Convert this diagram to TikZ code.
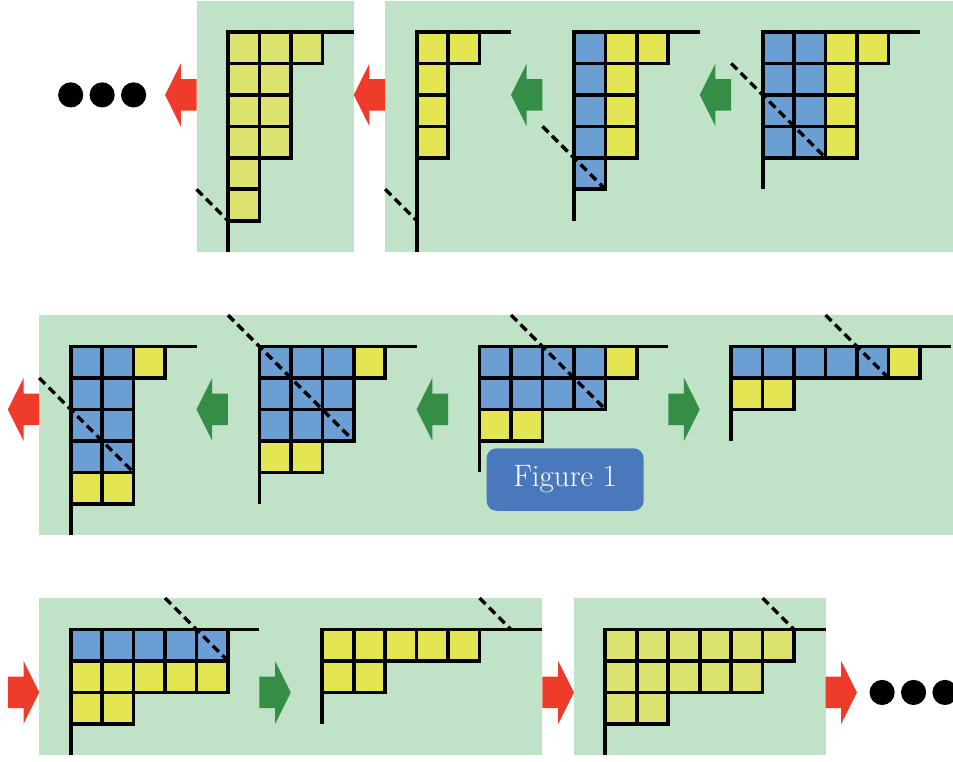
\documentclass[tikz,border=0pt]{standalone}
\definecolor{pgreen}{RGB}{192,226,199}
\definecolor{cblue}{RGB}{107,159,211}
\definecolor{cyel}{RGB}{227,229,82}
\definecolor{clight}{RGB}{220,227,110}
\definecolor{ared}{RGB}{238,59,42}
\definecolor{agreen}{RGB}{53,142,70}
\definecolor{figblue}{RGB}{74,120,188}
\tikzset{
  panel/.style={fill=pgreen, draw=none},
  cell/.style={draw=black, line width=3.6pt, line join=miter},
  axis/.style={draw=black, line width=3.8pt, line cap=butt},
  diag/.style={draw=black, line width=3.4pt, dash pattern=on 8.5pt off 5pt},
  redarrow/.style={fill=ared},
  grnarrow/.style={fill=agreen},
  bigdot/.style={fill=black},
  figbox/.style={fill=figblue, rounded corners=10pt, minimum width=157pt,
    minimum height=62.5pt, text=white, font=\fontsize{31}{37}\selectfont, inner sep=0pt}
}
% origin x, origin y, cells, top length, left length, dash from, dash to
\newcommand\ydiag[7]{%
  \begin{scope}[shift={(#1,#2)}]
    \foreach \c/\r/\k in {#3} {\filldraw[cell, fill=\k] (\c,\r) rectangle ++(1,1);}
    \draw[axis] (#4,0) -- (0,0) -- (0,#5);
    \draw[diag] #6 -- #7;
  \end{scope}}
% left-pointing block arrow: tip x, centre y, style
\newcommand\larrow[3]{%
  \fill[#3] (#1,#2) -- (#1+0.5,#2-1) -- (#1+0.5,#2-0.5) -- (#1+1,#2-0.5)
    -- (#1+1,#2+0.5) -- (#1+0.5,#2+0.5) -- (#1+0.5,#2+1) -- cycle;}
% right-pointing block arrow: tail x, centre y, style
\newcommand\rarrow[3]{%
  \fill[#3] (#1,#2-0.5) -- (#1+0.5,#2-0.5) -- (#1+0.5,#2-1) -- (#1+1,#2)
    -- (#1+0.5,#2+1) -- (#1+0.5,#2+0.5) -- (#1,#2+0.5) -- cycle;}
\begin{document}
\begin{tikzpicture}[x=31.45pt, y=-31.45pt]
\useasboundingbox (-70.7pt,32pt) rectangle (882.3pt,-729pt);
\clip (-70.7pt,32pt) rectangle (882.3pt,-729pt);
% panels
\fill[panel] (4,-1) rectangle (9,7);
\fill[panel] (10,-1) rectangle (28.2,7);
\fill[panel] (-1,9) rectangle (28.2,16);
\fill[panel] (-1,18) rectangle (15,23);
\fill[panel] (16,18) rectangle (24,23);
% top row
\ydiag{5}{0}{0/0/clight,1/0/clight,2/0/clight,0/1/clight,1/1/clight,0/2/clight,1/2/clight,0/3/clight,1/3/clight,0/4/clight,0/5/clight}{4}{7}{(-1,5)}{(0,6)}
\ydiag{11}{0}{0/0/cyel,1/0/cyel,0/1/cyel,0/2/cyel,0/3/cyel}{3}{7}{(-1,5)}{(0,6)}
\ydiag{16}{0}{0/0/cblue,1/0/cyel,2/0/cyel,0/1/cblue,1/1/cyel,0/2/cblue,1/2/cyel,0/3/cblue,1/3/cyel,0/4/cblue}{4}{6}{(-1,3)}{(1,5)}
\ydiag{22}{0}{0/0/cblue,1/0/cblue,2/0/cyel,3/0/cyel,0/1/cblue,1/1/cblue,2/1/cyel,0/2/cblue,1/2/cblue,2/2/cyel,0/3/cblue,1/3/cblue,2/3/cyel}{5}{5}{(-1,1)}{(2,4)}
% middle row
\ydiag{0}{10}{0/0/cblue,1/0/cblue,2/0/cyel,0/1/cblue,1/1/cblue,0/2/cblue,1/2/cblue,0/3/cblue,1/3/cblue,0/4/cyel,1/4/cyel}{4}{6}{(-1,1)}{(2,4)}
\ydiag{6}{10}{0/0/cblue,1/0/cblue,2/0/cblue,3/0/cyel,0/1/cblue,1/1/cblue,2/1/cblue,0/2/cblue,1/2/cblue,2/2/cblue,0/3/cyel,1/3/cyel}{5}{5}{(-1,-1)}{(3,3)}
\ydiag{13}{10}{0/0/cblue,1/0/cblue,2/0/cblue,3/0/cblue,4/0/cyel,0/1/cblue,1/1/cblue,2/1/cblue,3/1/cblue,0/2/cyel,1/2/cyel}{6}{4}{(1,-1)}{(4,2)}
\ydiag{21}{10}{0/0/cblue,1/0/cblue,2/0/cblue,3/0/cblue,4/0/cblue,5/0/cyel,0/1/cyel,1/1/cyel}{7}{3}{(3,-1)}{(5,1)}
% bottom row
\ydiag{0}{19}{0/0/cblue,1/0/cblue,2/0/cblue,3/0/cblue,4/0/cblue,0/1/cyel,1/1/cyel,2/1/cyel,3/1/cyel,4/1/cyel,0/2/cyel,1/2/cyel}{6}{4}{(3,-1)}{(5,1)}
\ydiag{8}{19}{0/0/cyel,1/0/cyel,2/0/cyel,3/0/cyel,4/0/cyel,0/1/cyel,1/1/cyel}{7}{3}{(5,-1)}{(6,0)}
\ydiag{17}{19}{0/0/clight,1/0/clight,2/0/clight,3/0/clight,4/0/clight,5/0/clight,0/1/clight,1/1/clight,2/1/clight,3/1/clight,4/1/clight,0/2/clight,1/2/clight}{7}{4}{(5,-1)}{(6,0)}
% arrows
\larrow{3}{2}{redarrow}
\larrow{9}{2}{redarrow}
\larrow{14}{2}{grnarrow}
\larrow{20}{2}{grnarrow}
\larrow{-2}{12}{redarrow}
\larrow{4}{12}{grnarrow}
\larrow{11}{12}{grnarrow}
\rarrow{19}{12}{grnarrow}
\rarrow{-2}{21}{redarrow}
\rarrow{6}{21}{grnarrow}
\rarrow{15}{21}{redarrow}
\rarrow{24}{21}{redarrow}
% dots
\foreach \x in {0,1,2} \fill[bigdot] (\x,2) circle (0.4);
\foreach \x in {25.8,26.8,27.8} \fill[bigdot] (\x,21) circle (0.4);
% label
\node[figbox] (fig) at (15.72,14.23) {Figure 1};
\end{tikzpicture}
\end{document}
